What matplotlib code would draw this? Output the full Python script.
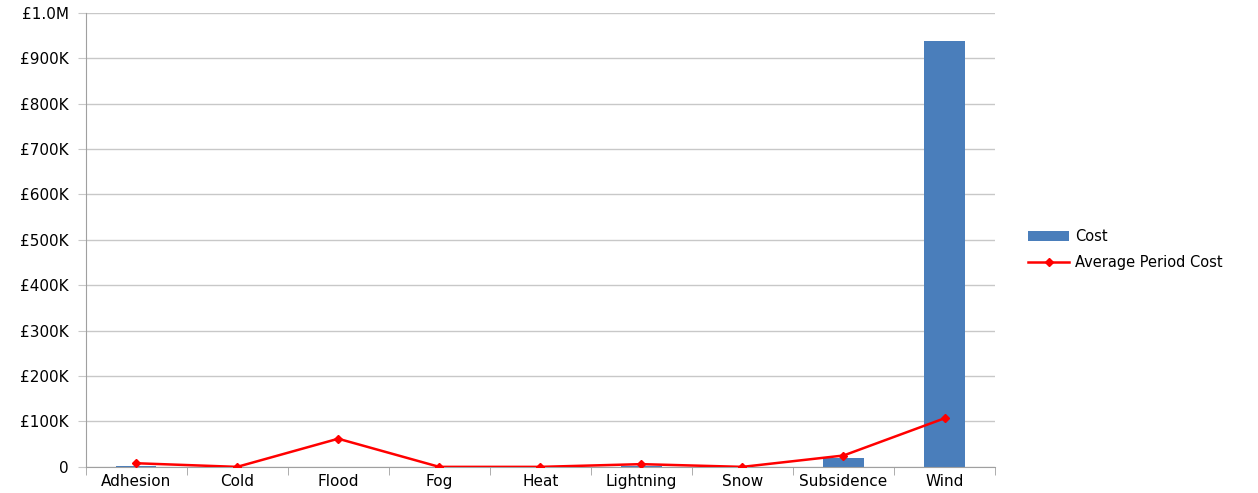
import numpy as np
import matplotlib
matplotlib.use('Agg')
import matplotlib.pyplot as plt
from matplotlib.ticker import FuncFormatter

# data
categories = ['Adhesion', 'Cold', 'Flood', 'Fog', 'Heat', 'Lightning', 'Snow', 'Subsidence', 'Wind']
cost = [3000, 0, 0, 0, 0, 2000, 0, 20000, 938000]
avg_period_cost = [8000, 0, 62000, 0, 0, 6000, 0, 25000, 107000]

plt.rcParams['font.family'] = ['DejaVu Sans']
plt.rcParams['font.size'] = 11

fig = plt.figure(figsize=(12.58, 4.93), dpi=100)
ax = fig.add_axes([0.068, 0.053, 0.723, 0.921])

x = np.arange(len(categories))
bars = ax.bar(x, cost, width=0.4, color='#4A7EBB', label='Cost', zorder=2)
line, = ax.plot(x, avg_period_cost, color='#FF0000', lw=1.8, marker='D', ms=4,
                label='Average Period Cost', zorder=3)

ax.set_xlim(-0.5, len(categories) - 0.5)
ax.set_ylim(0, 1000000)
ax.set_yticks(np.arange(0, 1000001, 100000))

def fmt(v, pos):
    if v == 0:
        return '0'
    if v >= 1000000:
        return '£%.1fM' % (v / 1e6)
    return '£%dK' % (v / 1000)

ax.yaxis.set_major_formatter(FuncFormatter(fmt))
ax.set_xticks(x)
ax.set_xticklabels(categories)
ax.set_xticks(np.arange(-0.5, len(categories), 1), minor=True)
ax.tick_params(axis='x', which='major', length=0, pad=5)
ax.tick_params(axis='x', which='minor', length=6, color='#A0A0A0')
ax.tick_params(axis='y', length=6, color='#C8C8C8', pad=6)

ax.grid(axis='y', color='#C8C8C8', lw=1, zorder=0)
ax.set_axisbelow(True)
for s in ['top', 'right']:
    ax.spines[s].set_visible(False)
ax.spines['left'].set_color('#A0A0A0')
ax.spines['bottom'].set_color('#A0A0A0')

ax.legend([bars, line], ['Cost', 'Average Period Cost'], loc='center left',
          bbox_to_anchor=(1.03, 0.478), frameon=False, fontsize=10.5,
          handlelength=2.8, handletextpad=0.4, labelspacing=0.75, borderaxespad=0)

fig.savefig('out.png', dpi=100)
